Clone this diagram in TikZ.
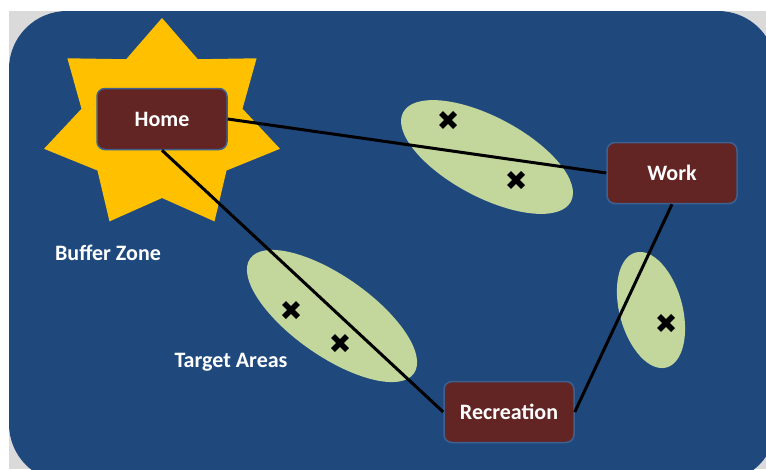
\documentclass[tikz,border=0pt]{standalone}
\usepackage{fontspec}
\setmainfont{Carlito}
\usetikzlibrary{shapes.geometric}
\definecolor{bgblue}{HTML}{1F497D}
\definecolor{boxred}{HTML}{632523}
\definecolor{boxedge}{HTML}{3E6090}
\definecolor{starfill}{HTML}{FFC000}
\definecolor{areafill}{HTML}{C3D69B}
\definecolor{cornergray}{HTML}{DADADA}
\tikzset{
  box/.style={draw=boxedge, line width=1.5pt, fill=boxred, rounded corners=8pt,
    minimum width=130pt, minimum height=61pt, text=white,
    font=\fontsize{22}{26}\selectfont\bfseries},
  lbl/.style={text=white, font=\fontsize{22}{26}\selectfont\bfseries},
  area/.style={ellipse, fill=areafill, inner sep=0pt},
  conn/.style={draw=black, line width=3pt},
  xmark/.pic={\draw[line width=5.5pt] (-7,-7) -- (7,7) (-7,7) -- (7,-7);}
}
\begin{document}
\begin{tikzpicture}[x=1pt, y=-1pt]
\useasboundingbox (0,0) rectangle (766,469);
\fill[white] (0,0) rectangle (766,469);
\fill[cornergray] (9,11) rectangle (766,469);
\fill[bgblue, rounded corners=58pt] (9,11) rectangle (776,482);
% buffer star
\fill[starfill, shift={(162,125)}, xscale=1.131]
  (-90:107) \foreach \k in {0,...,6} { -- ({-90+25.714+\k*51.4286}:73) -- ({-90+51.4286*(\k+1)}:107) } -- cycle;
% target areas
\node[area, minimum width=190pt, minimum height=80pt, rotate=-28] (area1) at (487,157) {};
\node[area, minimum width=200pt, minimum height=80pt, rotate=-35] (area2) at (332,316) {};
\node[area, minimum width=119pt, minimum height=63pt, rotate=-75] (area3) at (651,310) {};
% boxes
\node[box] (home) at (162,119) {Home};
\node[box] (work) at (672,173) {Work};
\node[box] (rec) at (509,412) {Recreation};
% connectors
\draw[conn] (home.east) -- (work.west);
\draw[conn] (home.south) -- (rec.west);
\draw[conn] (work.south) -- (rec.east);
% marks
\pic at (448,120) {xmark};
\pic at (516,180) {xmark};
\pic at (291,310) {xmark};
\pic at (340,343) {xmark};
\pic at (666,323) {xmark};
% labels
\node[lbl] (buffer) at (108,253) {Buffer Zone};
\node[lbl] (target) at (231,362) {Target Areas};
\end{tikzpicture}
\end{document}
